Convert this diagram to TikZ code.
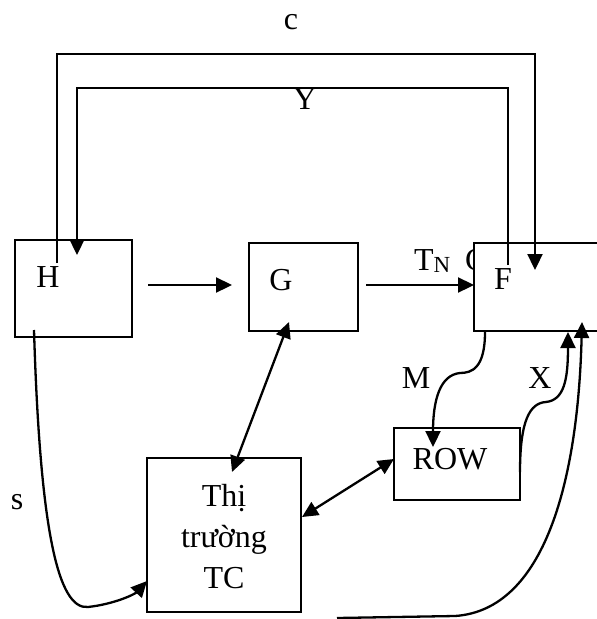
\documentclass[tikz,border=0pt]{standalone}
\usepackage{fontspec}
\setmainfont{Liberation Serif}
\usetikzlibrary{arrows.meta}
\begin{document}
\begin{tikzpicture}[x=1pt,y=-1pt,
  line width=2.3pt,
  every node/.style={font=\fontsize{32}{41}\selectfont, inner sep=0pt},
  boxnode/.style={draw, fill=white, line width=2pt, inner sep=0pt},
  arr/.style={-{Triangle[length=16pt,width=15pt]}},
  darr/.style={{Triangle[length=16pt,width=15pt]}-{Triangle[length=16pt,width=15pt]}}]
\useasboundingbox (0,0) rectangle (597,619);
% partially hidden label behind F
\node[anchor=base west] (cpart) at (464,270) {C};
% boxes
\node[boxnode, minimum width=117pt, minimum height=97pt] (H) at (73.5,288.5) {};
\node[boxnode, minimum width=109pt, minimum height=88pt] (G) at (303.5,287) {};
\node[boxnode, minimum width=146pt, minimum height=88pt] (F) at (547,287) {};
\node[boxnode, minimum width=126pt, minimum height=72pt] (ROW) at (457,464) {};
\node[boxnode, minimum width=154pt, minimum height=154pt] (TC) at (224,535) {};
% labels in boxes
\node (hl) at (48,277) {H};
\node (gl) at (281,280) {G};
\node (fl) at (503,279) {F};
\node (rowl) at (450,459) {ROW};
\node[align=center] (tcl) at (224,537) {Thị\\trường\\TC};
% coordinates
\coordinate (cS) at (57,263);
\coordinate (cTR) at (535,54);
\coordinate (cE) at (535,270);
\coordinate (yS) at (508,265);
\coordinate (yTL) at (77,88);
\coordinate (yE) at (77,255);
\coordinate (hgS) at (148,285);
\coordinate (hgE) at (232,285);
\coordinate (gfS) at (366,285);
\coordinate (gfE) at (474,285);
\coordinate (gB) at (289,322);
\coordinate (tcT) at (232,472);
\coordinate (tcR) at (302,517);
\coordinate (rowL) at (394,459);
\coordinate (hB) at (34,330);
\coordinate (tcL) at (147,581);
\coordinate (fM) at (485,332);
\coordinate (rowT) at (433,447);
\coordinate (rowR) at (520,472);
\coordinate (fX) at (568,332);
\coordinate (tcB) at (337,618);
\coordinate (fT) at (582,322);
% loops
\draw[arr] (cS) |- (cTR) -- (cE);
\draw[arr] (yS) |- (yTL) -- (yE);
% straight arrows
\draw[arr] (hgS) -- (hgE);
\draw[arr] (gfS) -- (gfE);
\draw[darr] (gB) -- (tcT);
\draw[darr] (tcR) -- (rowL);
% curves
\draw[arr] (hB) .. controls (40,530) and (58,610) .. (88,607) .. controls (115,604) and (135,594) .. (tcL);
\draw[arr] (fM) .. controls (485,368) and (472,373) .. (460,373) .. controls (440,375) and (433,400) .. (rowT);
\draw[arr] (rowR) .. controls (520,420) and (530,403) .. (546,402) .. controls (564,400) and (568,380) .. (fX);
\draw[arr] (tcB) -- (455,616) .. controls (545,610) and (578,480) .. (fT);
% other labels
\node (lc) at (291,22) {c};
\node (lY) at (305,99) {Y};
\node[anchor=base west] (lTN) at (413,270) {T\raisebox{-2pt}{\fontsize{23}{23}\selectfont N}};
\node (lM) at (416,378) {M};
\node (lX) at (540,378) {X};
\node (ls) at (17,502) {s};
\end{tikzpicture}
\end{document}
